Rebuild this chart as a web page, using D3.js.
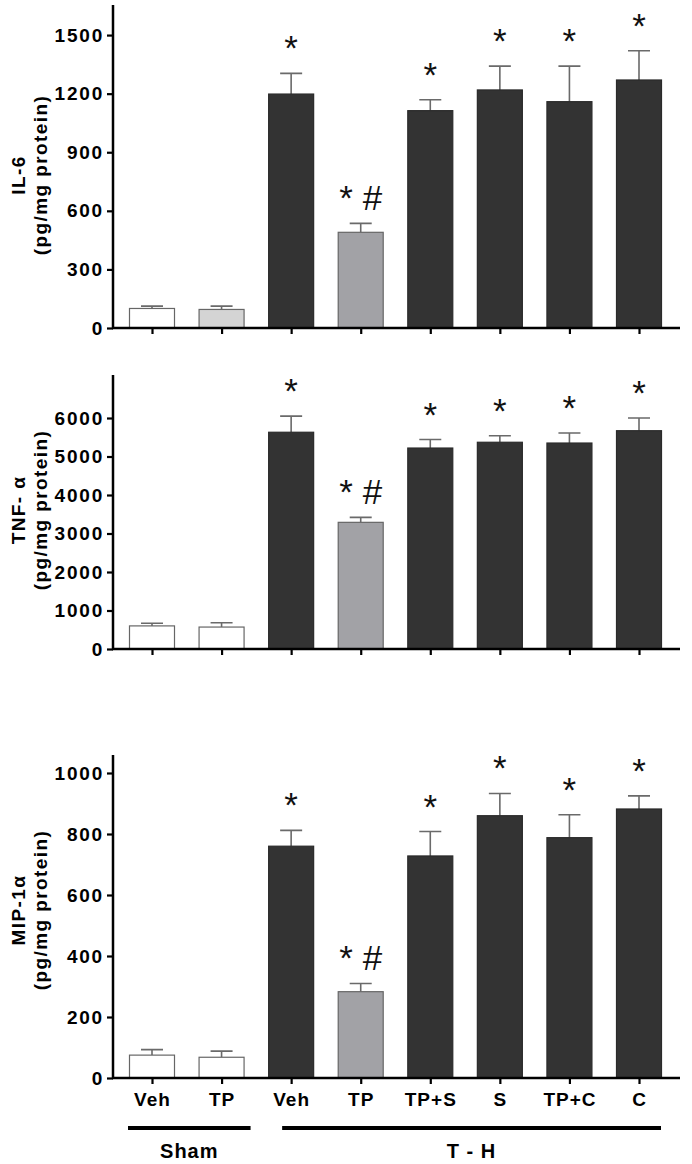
<!DOCTYPE html>
<html><head><meta charset="utf-8">
<script src="https://cdn.jsdelivr.net/npm/d3@7"></script>
<style>body{margin:0;background:#fff}svg{display:block}</style>
</head><body>
<svg id="chart" width="692" height="1164"></svg>
<script>
// ---------- data ----------
const categories = ["Veh", "TP", "Veh", "TP", "TP+S", "S", "TP+C", "C"];
const groupNames = ["Sham", "T - H"];
const groupStart = [0, 2];
const groupEnd = [1, 7];

const il6Means  = [100, 95, 1198, 490, 1113, 1219, 1159, 1270];
const il6Errors = [12, 17, 106, 46, 56, 122, 182, 150];
const il6Ticks  = [0, 300, 600, 900, 1200, 1500];
const il6Marks  = ["", "", "*", "* #", "*", "*", "*", "*"];

const tnfMeans  = [600, 570, 5630, 3290, 5220, 5370, 5350, 5670];
const tnfErrors = [70, 110, 420, 130, 220, 170, 260, 330];
const tnfTicks  = [0, 1000, 2000, 3000, 4000, 5000, 6000];
const tnfMarks  = ["", "", "*", "* #", "*", "*", "*", "*"];

const mipMeans  = [75, 68, 760, 283, 728, 860, 788, 882];
const mipErrors = [18, 20, 52, 27, 80, 73, 75, 43];
const mipTicks  = [0, 200, 400, 600, 800, 1000];
const mipMarks  = ["", "", "*", "* #", "*", "*", "*", "*"];

// ---------- styles ----------
const FILL_DARK = "#333333", FILL_GRAY = "#a2a2a6", FILL_LIGHT = "#d4d4d4", FILL_WHITE = "#ffffff";
const FONT = "Arial, 'Liberation Sans', Helvetica, sans-serif";

const svg = d3.select("#chart");

const x = d3.scalePoint().domain(d3.range(categories.length)).range([152, 639]);
const barW = 45;

const panels = [
  {label: "IL-6", means: il6Means, errs: il6Errors, ticks: il6Ticks, marks: il6Marks,
   max: 1654, top: 5, bottom: 328, labelY: 175,
   fills: [FILL_WHITE, FILL_LIGHT, FILL_DARK, FILL_GRAY, FILL_DARK, FILL_DARK, FILL_DARK, FILL_DARK]},
  {label: "TNF- \u03b1", means: tnfMeans, errs: tnfErrors, ticks: tnfTicks, marks: tnfMarks,
   max: 7117, top: 375, bottom: 649, labelY: 510,
   fills: [FILL_WHITE, FILL_WHITE, FILL_DARK, FILL_GRAY, FILL_DARK, FILL_DARK, FILL_DARK, FILL_DARK]},
  {label: "MIP-1\u03b1", means: mipMeans, errs: mipErrors, ticks: mipTicks, marks: mipMarks,
   max: 1059, top: 755, bottom: 1078, labelY: 910,
   fills: [FILL_WHITE, FILL_WHITE, FILL_DARK, FILL_GRAY, FILL_DARK, FILL_DARK, FILL_DARK, FILL_DARK]}
];

const axisX = 113;
const axisRight = 680;

panels.forEach((p, pi) => {
  const y = d3.scaleLinear().domain([0, p.max]).range([p.bottom, p.top]);
  const g = svg.append("g");

  const data = p.means.map((m, i) => ({i, m, e: p.errs[i], f: p.fills[i], mark: p.marks[i]}));

  // error bars (upper only)
  g.selectAll(".err").data(data).enter().append("path")
    .attr("d", d => {
      const cx = x(d.i);
      return `M${cx},${y(d.m)}V${y(d.m + d.e)}M${cx - 11},${y(d.m + d.e)}H${cx + 11}`;
    })
    .attr("stroke", "#6a6a6a").attr("stroke-width", 1.6).attr("fill", "none");

  // bars
  g.selectAll(".bar").data(data).enter().append("rect")
    .attr("x", d => x(d.i) - barW / 2)
    .attr("y", d => y(d.m))
    .attr("width", barW)
    .attr("height", d => y(0) - y(d.m))
    .attr("fill", d => d.f)
    .attr("stroke", d => d.f === FILL_DARK ? "#2a2a2a" : "#666")
    .attr("stroke-width", 1.2);

  // significance marks
  g.selectAll(".mark").data(data.filter(d => d.mark)).enter().append("text")
    .attr("x", d => x(d.i))
    .attr("y", d => y(d.m + d.e) - 13)
    .attr("text-anchor", "middle")
    .attr("font-family", FONT)
    .attr("font-size", 35)
    .attr("fill", "#111")
    .text(d => d.mark);

  // y axis
  const yAxis = d3.axisLeft(y).tickValues(p.ticks).tickSize(6).tickPadding(3)
    .tickSizeOuter(0).tickFormat(d3.format("d"));
  const ya = g.append("g").attr("transform", `translate(${axisX},0)`).call(yAxis);
  ya.select(".domain").attr("stroke", "#000").attr("stroke-width", 2.5)
    .attr("d", `M0,${p.top}V${p.bottom}`);
  ya.selectAll(".tick line").attr("stroke", "#000").attr("stroke-width", 2.2);
  ya.selectAll(".tick text").attr("font-family", FONT).attr("font-size", 19)
    .attr("font-weight", "bold").attr("fill", "#000").attr("letter-spacing", "1.8px");

  // x axis
  const xAxis = d3.axisBottom(x).tickSize(6).tickSizeOuter(0)
    .tickFormat(i => pi === 2 ? categories[i] : "");
  const xa = g.append("g").attr("transform", `translate(0,${p.bottom})`).call(xAxis);
  xa.select(".domain").attr("stroke", "#000").attr("stroke-width", 2.5)
    .attr("d", `M${axisX - 1},0H${axisRight}`);
  xa.selectAll(".tick line").attr("stroke", "#000").attr("stroke-width", 2.2);
  xa.selectAll(".tick text").attr("font-family", FONT).attr("font-size", 19)
    .attr("font-weight", "bold").attr("fill", "#000").attr("letter-spacing", "1px")
    .attr("dy", "1.0em");

  // y label
  const lab = g.append("text")
    .attr("transform", `translate(25,${p.labelY}) rotate(-90)`)
    .attr("text-anchor", "middle")
    .attr("font-family", FONT).attr("font-size", 19).attr("font-weight", "bold")
    .attr("letter-spacing", "1.4px");
  lab.append("tspan").attr("x", 0).attr("dy", 0).text(p.label);
  lab.append("tspan").attr("x", 0).attr("dy", 22).text("(pg/mg protein)");
});

// group lines and labels under the bottom panel
const groupLineY = 1128;
const groupPadL = [24, 9];
const groupPadR = [29, 22];
groupNames.forEach((name, gi) => {
  const x0 = x(groupStart[gi]) - groupPadL[gi];
  const x1 = x(groupEnd[gi]) + groupPadR[gi];
  svg.append("line").attr("x1", x0).attr("x2", x1)
    .attr("y1", groupLineY).attr("y2", groupLineY)
    .attr("stroke", "#000").attr("stroke-width", 4);
  svg.append("text").attr("x", (x0 + x1) / 2).attr("y", 1158)
    .attr("text-anchor", "middle").attr("font-family", FONT)
    .attr("font-size", 20).attr("font-weight", "bold").attr("letter-spacing", "1px")
    .text(name);
});
</script>
</body></html>
